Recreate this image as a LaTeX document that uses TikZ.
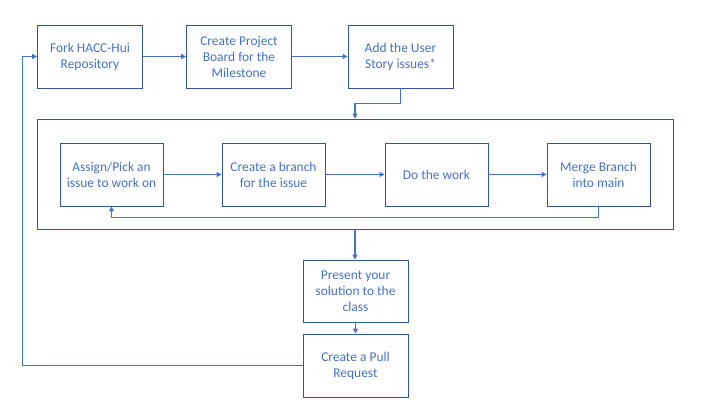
\documentclass[tikz,border=0pt]{standalone}
\usepackage{fontspec}
\setmainfont{Carlito}
\usetikzlibrary{arrows.meta,positioning}
\definecolor{boxline}{HTML}{2F5597}
\definecolor{flowblue}{HTML}{4472C4}

\begin{document}
\begin{tikzpicture}[x=1bp, y=-1bp, font=\fontsize{13.5}{16}\selectfont,
    stepbox/.style={rectangle, draw=boxline, line width=0.9bp, text=flowblue, align=center,
        minimum width=105bp, minimum height=63bp, inner sep=0pt},
    flow/.style={-{Triangle[length=5bp,width=5bp]}, draw=flowblue, line width=1.6bp}]
    \useasboundingbox (0,0) rectangle (720,405);

    \node (fork) [stepbox] at (90,56.5) {Fork HACC-Hui\\Repository};
    \node (board) [stepbox] at (239,56.5) {Create Project\\Board for the\\Milestone};
    \node (story) [stepbox] at (400.5,56.5) {Add the User\\Story issues*};

    \node (loop) [rectangle, draw=boxline, line width=0.9bp, minimum width=636bp, minimum height=110bp] at (355,174) {};
    \node (assign) [stepbox, minimum width=103bp] at (111.5,174.5) {Assign/Pick an\\issue to work on};
    \node (branch) [stepbox, minimum width=103bp] at (273.5,174.5) {Create a branch\\for the issue};
    \node (work) [stepbox, minimum width=103bp] at (436.5,174.5) {Do the work};
    \node (merge) [stepbox, minimum width=103bp] at (598.5,174.5) {Merge Branch\\into main};

    \node (present) [stepbox, minimum height=62bp] at (355.5,291) {Present your\\solution to the\\class};
    \node (pull) [stepbox] at (355.5,365.5) {Create a Pull\\Request};

    \draw[flow] (fork) -- (board);
    \draw[flow] (board) -- (story);
    \draw[flow] (story.south) -- ++(0,15) -| (loop.north);
    \draw[flow] (assign) -- (branch);
    \draw[flow] (branch) -- (work);
    \draw[flow] (work) -- (merge);
    \draw[flow] (merge.south) -- ++(0,11) -| (assign.south);
    \draw[flow] (loop.south) -- (loop.south |- present.north);
    \draw[flow] (present) -- (pull);
    \draw[flow] (pull.west) -- ++(-280,0) |- (fork.west);
\end{tikzpicture}
\end{document}
